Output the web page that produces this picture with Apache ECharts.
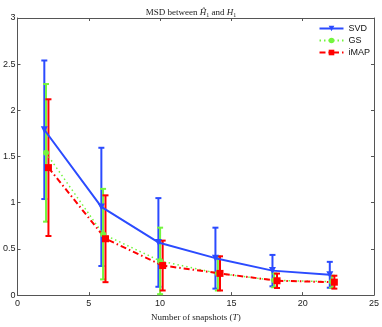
<!DOCTYPE html>
<html>
<head>
<meta charset="utf-8">
<script src="https://cdn.jsdelivr.net/npm/echarts@6/dist/echarts.min.js"></script>
<style>
  html, body { margin: 0; padding: 0; background: #fff; }
  #chart { width: 382px; height: 327px; }
</style>
</head>
<body>
<div id="chart"></div>
<script>
// values (series are slightly offset in x)
const svdX = [1.88, 5.88, 9.88, 13.88, 17.88, 21.9];
const svdMean = [1.79, 0.955, 0.57, 0.40, 0.265, 0.22];
const svdErr = [0.75, 0.64, 0.48, 0.33, 0.17, 0.14];

const gsX = [2.0, 6.0, 10.0, 14.05, 18.0, 22.05];
const gsMean = [1.54, 0.66, 0.37, 0.235, 0.16, 0.145];
const gsErr = [0.745, 0.49, 0.36, 0.185, 0.075, 0.065];

const imapX = [2.17, 6.17, 10.18, 14.2, 18.2, 22.22];
const imapMean = [1.38, 0.61, 0.32, 0.235, 0.155, 0.14];
const imapErr = [0.74, 0.47, 0.27, 0.185, 0.078, 0.07];

const xTicks = [0, 5, 10, 15, 20, 25];
const yTicks = [0, 0.5, 1, 1.5, 2, 2.5, 3];

const blue = '#2b4bff';
const green = '#74f53f';
const red = '#ff0000';

const chart = echarts.init(document.getElementById('chart'));

function errSeries(name, xs, means, errs, color) {
    return {
        name: name,
        type: 'custom',
        data: xs.map((x, i) => [x, means[i] - errs[i], means[i] + errs[i]]),
        encode: { x: 0, y: [1, 2] },
        z: 2,
        renderItem: function (params, api) {
            const lo = api.coord([api.value(0), api.value(1)]);
            const hi = api.coord([api.value(0), api.value(2)]);
            const w = 3;
            const st = { stroke: color, lineWidth: 2, fill: null };
            return {
                type: 'group',
                children: [
                    { type: 'line', shape: { x1: lo[0], y1: lo[1], x2: hi[0], y2: hi[1] }, style: st },
                    { type: 'line', shape: { x1: lo[0] - w, y1: lo[1], x2: lo[0] + w, y2: lo[1] }, style: st },
                    { type: 'line', shape: { x1: hi[0] - w, y1: hi[1], x2: hi[0] + w, y2: hi[1] }, style: st }
                ]
            };
        }
    };
}

function lineSeries(name, xs, means, color, symbol, size, lineType, width) {
    return {
        name: name,
        type: 'line',
        data: xs.map((x, i) => [x, means[i]]),
        symbol: symbol,
        symbolSize: size,
        showSymbol: true,
        z: 3,
        itemStyle: { color: color, borderWidth: 0 },
        lineStyle: { color: color, width: width, type: lineType },
        animation: false
    };
}

const axisCommon = {
    type: 'value',
    axisLine: { show: true, onZero: false, lineStyle: { color: '#555', width: 1 } },
    axisTick: { show: true, inside: true, length: 3, lineStyle: { color: '#555' } },
    splitLine: { show: false }
};

const option = {
    animation: false,
    title: {
        text: 'MSD between {i|Ĥ}{s|1} and {i|H}{s|1}',
        left: 'center',
        top: 2,
        textStyle: {
            fontFamily: 'Liberation Serif',
            fontSize: 9,
            fontWeight: 'normal',
            color: '#222',
            rich: {
                i: { fontFamily: 'Liberation Serif', fontStyle: 'italic', fontSize: 9, color: '#222' },
                s: { fontFamily: 'Liberation Serif', fontSize: 6, color: '#222', padding: [5, 0, 0, 0] }
            }
        }
    },
    legend: {
        data: ['SVD', 'GS', 'iMAP'],
        orient: 'vertical',
        right: 7,
        top: 19,
        itemWidth: 24,
        itemHeight: 7,
        itemGap: 3,
        textStyle: { fontFamily: 'Liberation Sans', fontSize: 9, color: '#111' }
    },
    grid: { left: 13, right: 8, top: 18, bottom: 24 },
    xAxis: [
        Object.assign({}, axisCommon, {
            min: 0, max: 25, interval: 5,
            position: 'bottom',
            name: 'Number of snapshots ({i|T})',
            nameLocation: 'middle',
            nameGap: 14,
            nameTextStyle: {
                fontFamily: 'Liberation Serif', fontSize: 9, color: '#222',
                rich: { i: { fontFamily: 'Liberation Serif', fontStyle: 'italic', fontSize: 9, color: '#222' } }
            },
            axisLabel: {
                margin: 4, fontFamily: 'Liberation Sans', fontSize: 9, color: '#222',
                formatter: v => xTicks.includes(v) ? String(v) : ''
            }
        }),
        Object.assign({}, axisCommon, {
            min: 0, max: 25, interval: 5,
            position: 'top',
            axisLabel: { show: false }
        })
    ],
    yAxis: [
        Object.assign({}, axisCommon, {
            min: 0, max: 3, interval: 0.5,
            position: 'left',
            axisLabel: {
                margin: 2, fontFamily: 'Liberation Sans', fontSize: 9, color: '#222',
                formatter: v => yTicks.includes(v) ? String(v) : ''
            }
        }),
        Object.assign({}, axisCommon, {
            min: 0, max: 3, interval: 0.5,
            position: 'right',
            axisLabel: { show: false }
        })
    ],
    series: [
        errSeries('SVD err', svdX, svdMean, svdErr, blue),
        lineSeries('SVD', svdX, svdMean, blue, 'path://M0,0 L10,0 L5,9 Z', 7, 'solid', 2),
        errSeries('GS err', gsX, gsMean, gsErr, green),
        lineSeries('GS', gsX, gsMean, green, 'circle', 6, [1.5, 3], 1.5),
        errSeries('iMAP err', imapX, imapMean, imapErr, red),
        lineSeries('iMAP', imapX, imapMean, red, 'rect', 7, [6, 3, 1.5, 3], 2)
    ]
};

chart.setOption(option);

window.addEventListener('resize', _ => {
    chart.resize();
});
</script>
</body>
</html>
